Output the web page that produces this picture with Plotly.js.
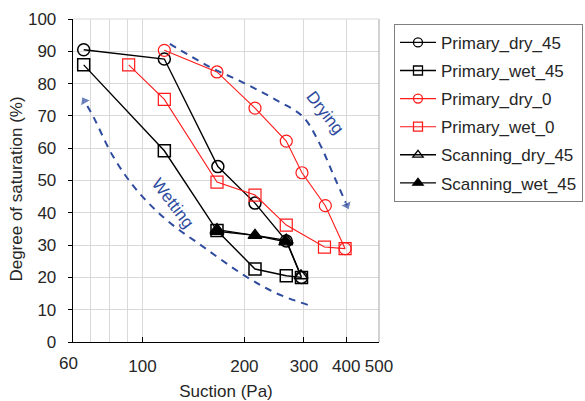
<!DOCTYPE html>
<html>
<head>
<meta charset="utf-8">
<script src="https://cdn.plot.ly/plotly-3.0.1.min.js"></script>
<style>html,body{margin:0;padding:0;background:#fff;}#chart{width:585px;height:401px;}</style>
</head>
<body>
<div id="chart"></div>
<script>
// ---- data ----
const seriesNames = ["Primary_dry_45","Primary_wet_45","Primary_dry_0","Primary_wet_0","Scanning_dry_45","Scanning_wet_45"];
const pd45_x = [67, 116, 167, 215, 266, 295];
const pd45_y = [90.5, 87.6, 54.3, 43.0, 31.3, 20.0];
const pw45_x = [67, 116, 166, 215, 266, 295];
const pw45_y = [85.8, 59.2, 34.5, 22.6, 20.5, 20.0];
const pd0_x = [116, 166, 215, 266, 296, 347, 397];
const pd0_y = [90.3, 83.6, 72.4, 62.2, 52.4, 42.2, 28.9];
const pw0_x = [91, 116, 166, 215, 266, 345, 397];
const pw0_y = [85.8, 75.1, 49.5, 45.5, 36.2, 29.4, 28.9];
const sd45_x = [166, 266, 294];
const sd45_y = [34.8, 31.5, 20.5];
const sw45_x = [166, 215, 265];
const sw45_y = [34.3, 33.0, 31.0];
// guide curves (hand-drawn arrows in the original)
const drying_x = [120.4, 157.9, 200.3, 248.5, 297.6, 333.4, 365, 402];
const drying_y = [92.3, 85.2, 80.1, 74.9, 69.8, 61.5, 52.2, 42.3];
const wetting_x = [308, 248.5, 202.7, 151, 117.7, 96, 81.9, 71.5, 67.3];
const wetting_y = [11.5, 15.1, 20.2, 29.5, 37.8, 47.1, 57.4, 69.8, 74.6];
const xTickVals = [100, 200, 300, 400, 500];
const xMinorVals = [70, 80, 90];
const yTickVals = [0,10,20,30,40,50,60,70,80,90,100];

const FONT = "Liberation Sans, Arial, sans-serif";
const TXT = "#262626";
const BLUE = "#2E4B9E";
const RED = "#FF1A1A";

const styles = [
  {symbol: "circle-open", color: "#000000", lw: 1.4, mlw: 1.5},
  {symbol: "square-open", color: "#000000", lw: 1.4, mlw: 1.5},
  {symbol: "circle-open", color: RED, lw: 1.1, mlw: 1.2},
  {symbol: "square-open", color: RED, lw: 1.1, mlw: 1.2},
  {symbol: "triangle-up-open", color: "#000000", lw: 1.4, mlw: 1.4},
  {symbol: "triangle-up", color: "#000000", lw: 1.4, mlw: 1.4}
];
const xs = [pd45_x, pw45_x, pd0_x, pw0_x, sd45_x, sw45_x];
const ys = [pd45_y, pw45_y, pd0_y, pw0_y, sd45_y, sw45_y];

const traces = [];
// data traces (drawn on the plot)
styles.forEach((s, i) => {
  traces.push({
    type: "scatter", mode: "lines+markers", name: seriesNames[i], x: xs[i], y: ys[i],
    showlegend: false,
    line: {color: s.color, width: s.lw},
    marker: {symbol: s.symbol, size: 12, color: s.color, line: {color: s.color, width: s.mlw}},
    cliponaxis: false
  });
});
// legend entries with the smaller legend symbols of the original
styles.forEach((s, i) => {
  traces.push({
    type: "scatter", mode: "lines+markers", name: seriesNames[i], x: [null], y: [null],
    legendgroup: "g" + i, showlegend: true,
    line: {color: s.color, width: s.lw},
    marker: {symbol: s.symbol, size: 9, color: s.color, line: {color: s.color, width: 1.3}}
  });
});
traces.push(
  {type: "scatter", mode: "lines+markers", x: drying_x, y: drying_y, showlegend: false, hoverinfo: "skip",
   line: {color: BLUE, width: 2, dash: "7px,6px", shape: "spline"},
   marker: {symbol: "triangle-up", angleref: "previous", color: BLUE,
            size: drying_x.map((v, i) => i === drying_x.length - 1 ? 10 : 0)}},
  {type: "scatter", mode: "lines+markers", x: wetting_x, y: wetting_y, showlegend: false, hoverinfo: "skip",
   line: {color: BLUE, width: 2, dash: "7px,6px", shape: "spline"},
   marker: {symbol: "triangle-up", angleref: "previous", color: BLUE,
            size: wetting_x.map((v, i) => i === wetting_x.length - 1 ? 10 : 0)}}
);

const layout = {
  width: 585, height: 401,
  margin: {l: 73, r: 206, t: 19, b: 59, pad: 0, autoexpand: false},
  paper_bgcolor: "#ffffff", plot_bgcolor: "#ffffff",
  font: {family: FONT, size: 17, color: TXT},
  showlegend: true,
  xaxis: {
    type: "log", range: [Math.log10(62.3), Math.log10(500)],
    tickvals: xTickVals, ticktext: xTickVals.map(String),
    ticks: "inside", ticklen: 5, tickcolor: "#000", ticklabelstandoff: 8,
    showline: true, linecolor: "#000", linewidth: 1.3,
    showgrid: true, gridcolor: "#D9D9D9", gridwidth: 1,
    minor: {tickvals: xMinorVals, showgrid: true, gridcolor: "#D9D9D9", gridwidth: 1, ticks: ""},
    zeroline: false,
    tickfont: {size: 17, color: TXT},
    title: {text: "Suction (Pa)", font: {size: 17, color: TXT}, standoff: 13}
  },
  yaxis: {
    range: [0, 100], tickvals: yTickVals,
    ticks: "outside", ticklen: 4, tickcolor: "#000", ticklabelstandoff: 8,
    showline: true, linecolor: "#000", linewidth: 1.3,
    showgrid: true, gridcolor: "#D9D9D9", gridwidth: 1,
    zeroline: false,
    tickfont: {size: 17, color: TXT}
  },
  legend: {
    x: 1.049, xanchor: "left", y: 0.985, yanchor: "top",
    bordercolor: "#7F7F7F", borderwidth: 1, bgcolor: "#ffffff",
    font: {family: FONT, size: 17, color: TXT},
    traceorder: "grouped", tracegroupgap: 3, itemwidth: 36
  },
  shapes: [
    {type: "line", xref: "paper", yref: "paper", x0: 1, x1: 1, y0: 0, y1: 1, line: {color: "#A6A6A6", width: 1}},
    {type: "line", xref: "paper", yref: "paper", x0: 0, x1: 1, y0: 1, y1: 1, line: {color: "#D9D9D9", width: 1}}
  ],
  annotations: [
    {text: "60", xref: "paper", yref: "paper", x: -0.016, y: 0, xanchor: "center", yanchor: "middle",
     yshift: -21, showarrow: false, font: {size: 17, color: TXT}},
    {text: "Degree of saturation (%)", xref: "paper", yref: "paper", x: -0.184, y: 0.474,
     xanchor: "center", yanchor: "middle", textangle: -90, showarrow: false, font: {size: 17, color: TXT}},
    {text: "Drying", xref: "x", yref: "y", x: Math.log10(345), y: 70.9, textangle: 52, showarrow: false,
     font: {size: 17, color: BLUE}},
    {text: "Wetting", xref: "x", yref: "y", x: Math.log10(123), y: 42.9, textangle: 53, showarrow: false,
     font: {size: 17, color: BLUE}}
  ]
};

Plotly.newPlot("chart", traces, layout, {staticPlot: true, displayModeBar: false});
</script>
</body>
</html>
